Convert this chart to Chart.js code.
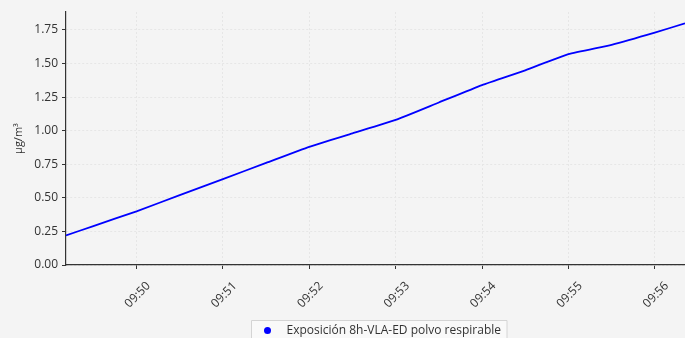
<!DOCTYPE html>
<html>
<head>
<meta charset="utf-8">
<script src="https://cdn.jsdelivr.net/npm/chart.js@4.4.1/dist/chart.umd.min.js"></script>
<style>
  html, body { margin: 0; padding: 0; background: #f4f4f4; }
  #wrap { width: 685px; height: 338px; position: relative; }
</style>
</head>
<body>
<div id="wrap"><canvas id="c" width="685" height="338"></canvas></div>
<script>
// Sample times (hh:mm:ss) and 8h exposure values in µg/m³
const sampleTimes = [
  '09:49:11', '09:49:30', '09:50:00', '09:50:30', '09:51:00', '09:51:30',
  '09:52:00', '09:52:30', '09:53:00', '09:53:30', '09:54:00', '09:54:30',
  '09:55:00', '09:55:30', '09:56:00', '09:56:21'
];
const exposureValues = [
  0.22, 0.29, 0.40, 0.52, 0.64, 0.76,
  0.88, 0.98, 1.08, 1.21, 1.34, 1.45,
  1.57, 1.64, 1.73, 1.80
];
const seriesLabel = 'Exposición 8h-VLA-ED polvo respirable';
const xTickTimes = ['09:50', '09:51', '09:52', '09:53', '09:54', '09:55', '09:56'];
const yTickValues = [0, 0.25, 0.5, 0.75, 1.0, 1.25, 1.5, 1.75];
const yAxisTitle = 'µg/m³';

// minutes since midnight
function toMinutes(t) {
  const p = t.split(':').map(Number);
  return p[0] * 60 + p[1] + (p[2] || 0) / 60;
}
function fmtMinutes(m) {
  const h = Math.floor(m / 60), mm = Math.round(m - h * 60);
  return String(h).padStart(2, '0') + ':' + String(mm).padStart(2, '0');
}

const points = sampleTimes.map((t, i) => ({ x: toMinutes(t), y: exposureValues[i] }));

const FONT = '"Open Sans", "DejaVu Sans", sans-serif';

const background = {
  id: 'background',
  beforeDraw(chart) {
    const ctx = chart.ctx;
    ctx.save();
    ctx.fillStyle = '#f4f4f4';
    ctx.fillRect(0, 0, chart.width, chart.height);
    ctx.restore();
  }
};

// boxed legend with a round marker, centred under the plot
const boxedLegend = {
  id: 'boxedLegend',
  afterDraw(chart) {
    const ctx = chart.ctx;
    const ds = chart.data.datasets[0];
    ctx.save();
    ctx.font = '12px ' + FONT;
    const tw = ctx.measureText(ds.label).width;
    const boxW = tw + 41, boxH = 22;
    const cx = (chart.chartArea.left + chart.chartArea.right) / 2 + 3;
    const x0 = Math.round(cx - boxW / 2) + 0.5, y0 = 320.5;
    ctx.fillStyle = '#f9f9f9';
    ctx.strokeStyle = '#d4d4d4';
    ctx.lineWidth = 1;
    ctx.beginPath();
    ctx.rect(x0, y0, boxW, boxH);
    ctx.fill();
    ctx.stroke();
    ctx.fillStyle = ds.borderColor;
    ctx.beginPath();
    ctx.arc(x0 + 16, y0 + 10, 3.5, 0, Math.PI * 2);
    ctx.fill();
    ctx.fillStyle = '#333333';
    ctx.textBaseline = 'middle';
    ctx.fillText(ds.label, x0 + 35, y0 + 10);
    ctx.restore();
  }
};

new Chart(document.getElementById('c'), {
  type: 'line',
  data: {
    datasets: [{
      label: seriesLabel,
      data: points,
      borderColor: '#0000ff',
      backgroundColor: '#0000ff',
      borderWidth: 1.8,
      pointRadius: 0,
      tension: 0.15
    }]
  },
  options: {
    responsive: false,
    animation: false,
    layout: { padding: { top: 12, right: 0, left: 0, bottom: 0 } },
    plugins: { legend: { display: false }, tooltip: { enabled: false } },
    scales: {
      x: {
        type: 'linear',
        min: toMinutes('09:49:11'),
        max: toMinutes('09:56:21'),
        afterBuildTicks: s => { s.ticks = xTickTimes.map(t => ({ value: toMinutes(t) })); },
        afterFit: s => { s.height = 73; },
        ticks: {
          callback: v => fmtMinutes(v),
          minRotation: 45, maxRotation: 45,
          color: '#333333',
          padding: 10,
          labelOffset: 12,
          font: { family: FONT, size: 12 }
        },
        grid: { color: '#e6e6e6', tickColor: '#333333', tickLength: 4, drawTicks: true },
        border: { color: '#333333', width: 1.2, dash: [2, 2] }
      },
      y: {
        min: 0,
        max: 1.884,
        afterBuildTicks: s => { s.ticks = yTickValues.map(v => ({ value: v })); },
        afterFit: s => { s.width = 66; },
        ticks: {
          callback: v => v.toFixed(2),
          color: '#333333',
          padding: 4,
          font: { family: FONT, size: 12 }
        },
        title: {
          display: true,
          text: yAxisTitle,
          color: '#333333',
          padding: { top: 12, bottom: 0 },
          font: { family: FONT, size: 11 }
        },
        grid: { color: '#e6e6e6', tickColor: '#333333', tickLength: 4, drawTicks: true },
        border: { color: '#333333', width: 1.2, dash: [2, 2] }
      }
    }
  },
  plugins: [background, boxedLegend]
});
</script>
</body>
</html>
